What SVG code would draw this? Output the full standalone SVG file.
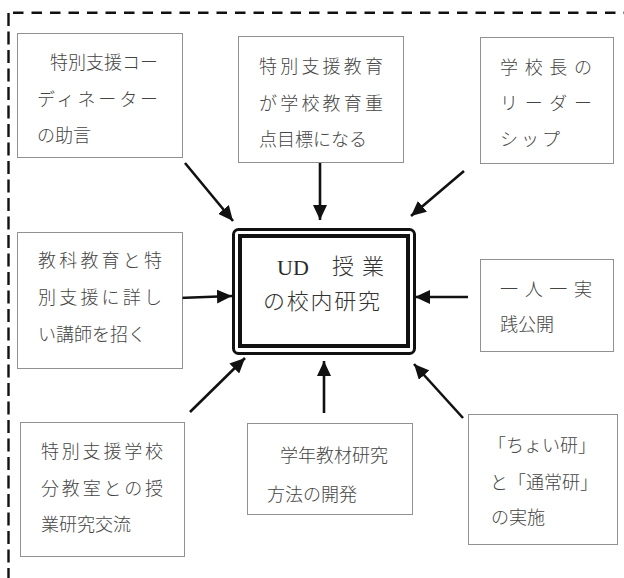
<svg xmlns="http://www.w3.org/2000/svg" width="624" height="578" viewBox="0 0 624 578">
<defs>
<style>
.bg{fill:#fff}
.frameT{fill:none;stroke:#111;stroke-width:2.6;stroke-dasharray:10.5 8}
.frameL{fill:none;stroke:#111;stroke-width:2.4;stroke-dasharray:13 5.5}
.box{fill:#fff;stroke:#222;stroke-width:1;stroke-dasharray:1 1}
.t{font-family:"Noto Sans CJK JP","Noto Sans CJK SC",sans-serif;font-size:18px;font-weight:300;fill:#444}
.c{font-family:"Liberation Serif","Noto Sans CJK JP",serif;font-size:22px;fill:#2a2a2a}
.cj{font-family:"Noto Sans CJK JP","Noto Sans CJK SC",sans-serif;font-size:22px;font-weight:300;fill:#333}
.arr{stroke:#111;stroke-width:2.6;fill:none;marker-end:url(#ah)}
</style>
<marker id="ah" markerUnits="userSpaceOnUse" markerWidth="16" markerHeight="14" refX="15" refY="7" orient="auto">
<path d="M0,0 L15,7 L0,14 Z" fill="#111"/>
</marker>
</defs>
<rect class="bg" x="0" y="0" width="624" height="578"/>
<path class="frameT" d="M13,12.7 H624"/>
<path class="frameL" d="M8.5,13 V578"/>

<g id="connectors">
<line class="arr" x1="185" y1="163" x2="233" y2="221"/>
<line class="arr" x1="320" y1="163" x2="320" y2="220"/>
<line class="arr" x1="464" y1="171" x2="411" y2="216"/>
<line class="arr" x1="179" y1="298" x2="232" y2="296"/>
<line class="arr" x1="468" y1="297" x2="415" y2="297"/>
<line class="arr" x1="190" y1="412" x2="245" y2="358"/>
<line class="arr" x1="324" y1="413" x2="324" y2="361"/>
<line class="arr" x1="463" y1="418" x2="414" y2="364"/>
</g>

<g id="center">
<rect x="233.5" y="229.5" width="181" height="124" rx="5" fill="#fff" stroke="#111" stroke-width="3"/>
<rect x="240" y="236" width="168" height="110" fill="none" stroke="#111" stroke-width="4"/>
<text class="c" x="277" y="275">UD</text>
<text class="cj" x="332" y="274">授</text>
<text class="cj" x="362" y="274">業</text>
<text class="cj" x="263" y="309" textLength="117" lengthAdjust="spacing">の校内研究</text>
</g>

<g id="n1">
<rect class="box" x="17.5" y="33.5" width="165" height="124"/>
<text class="t" x="50" y="69">特別支援コー</text>
<text class="t" x="37" y="106" textLength="121" lengthAdjust="spacing">ディネーター</text>
<text class="t" x="37" y="142">の助言</text>
</g>

<g id="n2">
<rect class="box" x="238.5" y="36.5" width="165" height="126"/>
<text class="t" x="259" y="73" textLength="124" lengthAdjust="spacing">特別支援教育</text>
<text class="t" x="259" y="110" textLength="124" lengthAdjust="spacing">が学校教育重</text>
<text class="t" x="259" y="146">点目標になる</text>
</g>

<g id="n3">
<rect class="box" x="480.5" y="37.5" width="133" height="126"/>
<text class="t" x="500" y="74" textLength="92" lengthAdjust="spacing">学校長の</text>
<text class="t" x="500" y="110" textLength="92" lengthAdjust="spacing">リーダー</text>
<text class="t" x="500" y="146" textLength="60" lengthAdjust="spacing">シップ</text>
</g>

<g id="n4">
<rect class="box" x="17.5" y="232.5" width="165" height="136"/>
<text class="t" x="38" y="267" textLength="124" lengthAdjust="spacing">教科教育と特</text>
<text class="t" x="38" y="304" textLength="124" lengthAdjust="spacing">別支援に詳し</text>
<text class="t" x="38" y="341">い講師を招く</text>
</g>

<g id="n5">
<rect class="box" x="480.5" y="259.5" width="133" height="92"/>
<text class="t" x="500" y="296" textLength="92" lengthAdjust="spacing">一人一実</text>
<text class="t" x="500" y="331">践公開</text>
</g>

<g id="n6">
<rect class="box" x="20.5" y="422.5" width="164" height="134"/>
<text class="t" x="41" y="458" textLength="122" lengthAdjust="spacing">特別支援学校</text>
<text class="t" x="41" y="495" textLength="122" lengthAdjust="spacing">分教室との授</text>
<text class="t" x="41" y="531">業研究交流</text>
</g>

<g id="n7">
<rect class="box" x="247.5" y="423.5" width="165" height="91"/>
<text class="t" x="280" y="462">学年教材研究</text>
<text class="t" x="267" y="501">方法の開発</text>
</g>

<g id="n8">
<rect class="box" x="468.5" y="414.5" width="149" height="130"/>
<text class="t" x="488" y="452">「ちょい研」</text>
<text class="t" x="490" y="489">と「通常研」</text>
<text class="t" x="491" y="524">の実施</text>
</g>
</svg>
